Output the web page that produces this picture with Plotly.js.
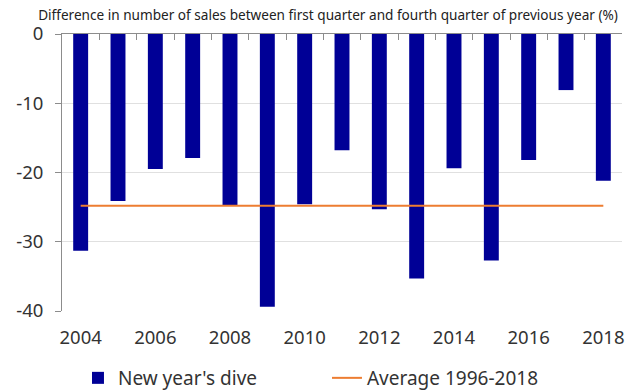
<!DOCTYPE html>
<html>
<head>
<meta charset="utf-8">
<script src="https://cdn.plot.ly/plotly-3.0.1.min.js"></script>
<style>
  html, body { margin: 0; padding: 0; background: #ffffff; }
  #chart { width: 626px; height: 392px; }
</style>
</head>
<body>
<div id="chart"></div>
<script>
// Years shown on the category axis
const years = [2004, 2005, 2006, 2007, 2008, 2009, 2010, 2011, 2012, 2013, 2014, 2015, 2016, 2017, 2018];
// Change in sales, Q1 vs Q4 of the previous year (%)
const dive = [-31.3, -24.1, -19.5, -17.9, -24.7, -39.4, -24.6, -16.8, -25.3, -35.3, -19.4, -32.7, -18.2, -8.1, -21.2];
// Long-run average 1996-2018 (%)
const averageValue = -24.8;
const average = years.map(() => averageValue);
// Labelled years on the x axis and values on the y axis
const labelYears = [2004, 2006, 2008, 2010, 2012, 2014, 2016, 2018];
const yTicks = [0, -10, -20, -30, -40];

const font = "'Noto Sans', 'Open Sans', sans-serif";
const textColor = '#333333';
const axisColor = '#8c8c8c';

const traces = [
  {
    type: 'bar',
    name: "New year's dive",
    x: years,
    y: dive,
    width: 0.4,
    marker: { color: '#000096', line: { width: 0 } },
    xaxis: 'x',
    yaxis: 'y'
  },
  {
    type: 'scatter',
    mode: 'lines',
    name: 'Average 1996-2018',
    x: years,
    y: average,
    line: { color: '#ed7d31', width: 2 },
    xaxis: 'x2',
    yaxis: 'y'
  }
];

const layout = {
  width: 626,
  height: 392,
  paper_bgcolor: '#ffffff',
  plot_bgcolor: '#ffffff',
  margin: { l: 62, r: 4, t: 34, b: 81 },
  font: { family: font, color: textColor },
  title: {
    text: 'Difference in number of sales between first quarter and fourth quarter of previous year (%)',
    font: { family: font, size: 13.6, color: '#222222' },
    xref: 'container', x: 328 / 626, xanchor: 'center',
    yref: 'container', y: 1 - 15 / 392, yanchor: 'middle'
  },
  xaxis: {
    range: [2003.5, 2018.5],
    tickmode: 'array',
    tickvals: labelYears,
    ticktext: labelYears.map(String),
    ticks: '',
    showline: false,
    showgrid: false,
    zeroline: false,
    ticklabelstandoff: 13,
    tickfont: { family: font, size: 18.5, color: textColor }
  },
  xaxis2: {
    overlaying: 'x',
    anchor: 'y',
    side: 'top',
    range: [2003.5, 2018.5],
    tickmode: 'linear',
    tick0: 2003.5,
    dtick: 1,
    ticks: 'inside',
    ticklen: 6,
    tickcolor: axisColor,
    showticklabels: false,
    showline: true,
    linecolor: axisColor,
    linewidth: 1,
    showgrid: false,
    zeroline: false
  },
  yaxis: {
    range: [-40, 0],
    tickmode: 'array',
    tickvals: yTicks,
    ticktext: yTicks.map(String),
    ticks: 'outside',
    ticklen: 6,
    tickcolor: axisColor,
    showline: true,
    linecolor: axisColor,
    linewidth: 1,
    showgrid: true,
    gridcolor: '#e0e0e0',
    gridwidth: 1,
    zeroline: false,
    ticklabelstandoff: 8,
    tickfont: { family: font, size: 18.5, color: textColor }
  },
  showlegend: true,
  legend: {
    orientation: 'h',
    xref: 'paper', x: (78 - 62) / 561, xanchor: 'left',
    yref: 'container', y: 1 - 378 / 392, yanchor: 'middle',
    entrywidth: 204,
    entrywidthmode: 'pixels',
    font: { family: font, size: 19, color: textColor },
    bgcolor: 'rgba(0,0,0,0)'
  },
  bargap: 0.6
};

Plotly.newPlot('chart', traces, layout, { displayModeBar: false, staticPlot: true });
</script>
</body>
</html>
